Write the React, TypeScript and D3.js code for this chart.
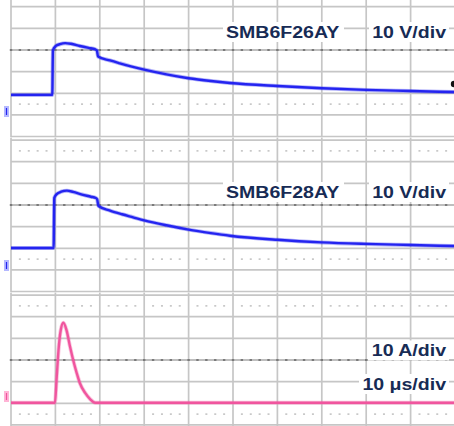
import * as d3 from "d3";

const WIDTH = 454;
const HEIGHT = 426;
const DIV_X = 44.4;
const DIV_Y = 21.65;
const X_LEFT = 11;

// 10 us/div, 10 divisions on screen
const TIME_DOMAIN = [0, 100];

// SMB6F26AY voltage (V) vs time (us)
const v26Time = [0, 9.3, 9.45, 10.1, 11, 12.2, 13.5, 15.5, 17.5, 18.9, 19.35, 19.6, 22.3, 24.5, 27, 30, 35, 40, 45, 49.3, 60, 70, 80, 90, 100];
const v26Volts = [7.9, 7.9, 28.6, 30.5, 31.3, 31.8, 31.5, 30.5, 29.6, 29.0, 28.4, 25.6, 23.8, 22.5, 21.1, 19.6, 17.4, 15.6, 14.3, 13.4, 12.0, 11.0, 10.2, 9.7, 9.2];

// SMB6F28AY voltage (V) vs time (us)
const v28Time = [0, 9.6, 9.75, 10.3, 11.3, 12.6, 14, 16, 18, 19.1, 19.4, 19.7, 22.3, 25, 27.5, 30, 35, 40, 45, 49.3, 60, 70, 80, 90, 100];
const v28Volts = [8.3, 8.3, 31.5, 33.2, 34.3, 34.8, 34.2, 33.0, 32.0, 31.4, 30.8, 27.7, 25.6, 23.9, 22.5, 21.1, 18.8, 16.8, 15.2, 14.0, 12.1, 10.9, 10.2, 9.7, 9.2];

// surge current (A) vs time (us)
const iTime = [0, 9.9, 10.3, 10.7, 11.2, 11.8, 12.5, 13.3, 14.0, 14.8, 15.5, 16.7, 17.8, 19.0, 100];
const iAmps = [0, 0, 12.0, 24.3, 33.5, 36.9, 33.5, 25.8, 19.7, 13.7, 9.1, 4.5, 1.7, 0, 0];

const panels = [
  { top: 0, bottom: 137.5, center: 50, zeroY: 112, time: v26Time, values: v26Volts, color: "#2424f0", marker: 106, markerFill: "#b4b8ff" },
  { top: 137.5, bottom: 292.5, center: 205, zeroY: 266, time: v28Time, values: v28Volts, color: "#2424f0", marker: 260, markerFill: "#b4b8ff" },
  { top: 292.5, bottom: 426, center: 360, zeroY: 402.7, time: iTime, values: iAmps, color: "#f0559e", marker: 391, markerFill: "#ffb4d6" },
];

const labels = [
  { text: "SMB6F26AY", x: 226, y: 37.5, anchor: "start", w: 115 },
  { text: "10 V/div", x: 446, y: 37.5, anchor: "end", w: 74 },
  { text: "SMB6F28AY", x: 226, y: 197.5, anchor: "start", w: 115 },
  { text: "10 V/div", x: 446, y: 197.5, anchor: "end", w: 74 },
  { text: "10 A/div", x: 446, y: 356, anchor: "end", w: 75 },
  { text: "10 μs/div", x: 446, y: 389.5, anchor: "end", w: 84 },
];

const x = d3.scaleLinear().domain(TIME_DOMAIN).range([X_LEFT, X_LEFT + 10 * DIV_X]);

const Panel = ({ p, i }: { p: (typeof panels)[number]; i: number }) => {
  // 10 units per vertical division
  const y = d3.scaleLinear().domain([0, 10]).range([p.zeroY, p.zeroY - DIV_Y]);
  const line = d3
    .line<number>()
    .x((_, k) => x(p.time[k]))
    .y((d) => y(d))
    .curve(d3.curveMonotoneX);

  const hLines = d3.range(-6, 7).map((k) => p.center + k * DIV_Y).filter((v) => v >= p.top + 1 && v <= p.bottom);
  const vLines = d3.range(0, 11).map((k) => X_LEFT + k * DIV_X);
  const subTicks = d3.range(0, 50).map((k) => X_LEFT + (k * DIV_X) / 5);
  const lightRows = [p.center - 2.5 * DIV_Y, p.center + 2.5 * DIV_Y].filter((v) => v > p.top && v < p.bottom);
  const d = line(p.values) ?? "";

  return (
    <g>
      <defs>
        <clipPath id={`clip-${i}`}>
          <rect x={0} y={p.top} width={WIDTH} height={p.bottom - p.top} />
        </clipPath>
      </defs>
      <g clipPath={`url(#clip-${i})`}>
        {hLines.map((v) =>
          v === p.center ? null : (
            <line key={`h${v}`} x1={X_LEFT} x2={WIDTH} y1={v} y2={v} stroke="#c6c6c6" strokeWidth={1.7} />
          )
        )}
        {vLines.map((v) => (
          <line key={`v${v}`} x1={v} x2={v} y1={p.top} y2={p.bottom} stroke="#c6c6c6" strokeWidth={1.7} />
        ))}
        {lightRows.map((r) =>
          subTicks
            .filter((_, k) => k % 5 !== 0)
            .map((t) => <rect key={`l${r}-${t}`} x={t - 1} y={r - 0.8} width={2} height={1.6} fill="#c4c4c4" />)
        )}
        <line x1={X_LEFT} x2={WIDTH} y1={p.center} y2={p.center} stroke="#a8a8a8" strokeWidth={1.6} />
        {subTicks.map((t) => (
          <rect key={`c${t}`} x={t - 1.2} y={p.center - 1} width={2.4} height={2} fill="#7a7a7a" />
        ))}
        <path d={d} fill="none" stroke={p.color} strokeOpacity={0.35} strokeWidth={4} strokeLinejoin="round" />
        <path d={d} fill="none" stroke={p.color} strokeWidth={2.4} strokeLinejoin="round" />
      </g>
      <rect x={4} y={p.marker} width={5} height={11} fill={p.markerFill} />
      <line x1={6.5} x2={6.5} y1={p.marker + 2} y2={p.marker + 9} stroke={p.color} strokeWidth={1.2} />
    </g>
  );
};

const App = () => {
  return (
    <svg width={WIDTH} height={HEIGHT} style={{ display: "block", position: "absolute", left: 0, top: 0 }}>
      <rect width={WIDTH} height={HEIGHT} fill="#ffffff" />
      {panels.map((p, i) => (
        <Panel key={i} p={p} i={i} />
      ))}
      <circle cx={454} cy={84} r={3.2} fill="#111" />
      {labels.map((l, i) => (
        <g key={i}>
          <rect x={(l.anchor === "end" ? l.x - l.w : l.x) - 3} y={l.y - 15.5} width={l.w + 6} height={20} fill="#ffffff" />
          <text
            transform={`translate(${l.x},${l.y}) scale(1.15,1)`}
            textAnchor={l.anchor}
            fontFamily="'Liberation Sans', Arial, sans-serif"
            fontWeight="bold"
            fontSize={17}
            fill="#172b55"
          >
            {l.text}
          </text>
        </g>
      ))}
    </svg>
  );
};

export default App;
